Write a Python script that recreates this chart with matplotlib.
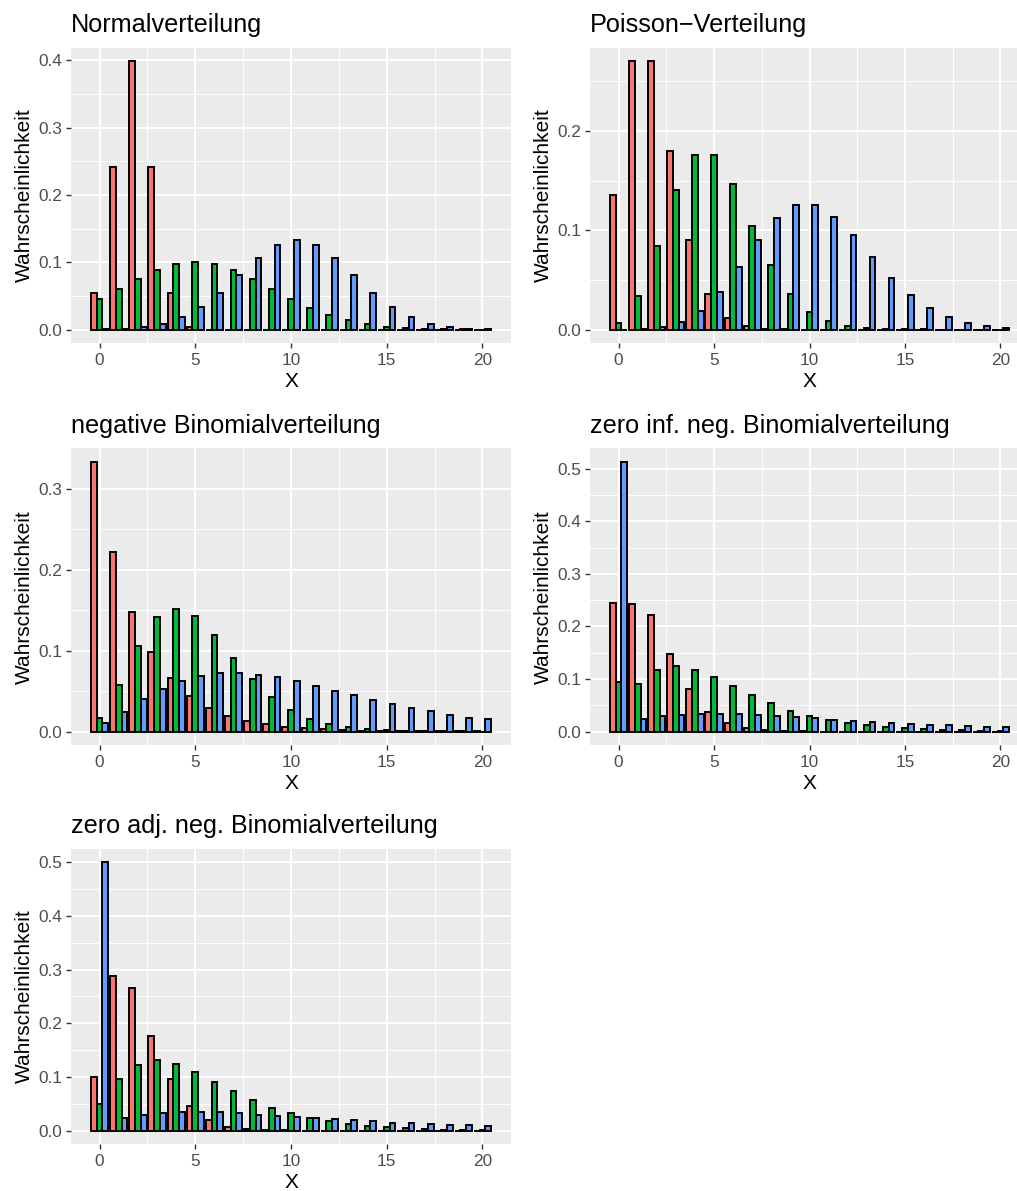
import matplotlib
matplotlib.use("Agg")
import matplotlib.pyplot as plt
from matplotlib.ticker import FixedLocator, FormatStrFormatter

plt.rcParams['font.family'] = ['Liberation Sans', 'DejaVu Sans']

# x-Werte 0..20
x = list(range(21))

# Normalverteilung
norm_a = [0.0540, 0.2420, 0.3989, 0.2420, 0.0540, 0.0044, 0.0001, 0, 0, 0, 0,
          0, 0, 0, 0, 0, 0, 0, 0, 0, 0]
norm_b = [0.0457, 0.0605, 0.0753, 0.0880, 0.0967, 0.0997, 0.0967, 0.0880, 0.0753, 0.0605, 0.0457,
          0.0324, 0.0216, 0.0135, 0.0079, 0.0044, 0.0022, 0.0011, 0.0005, 0.0002, 0.0001]
norm_c = [0.0005, 0.0015, 0.0038, 0.0087, 0.0180, 0.0332, 0.0547, 0.0807, 0.1065, 0.1258, 0.1330,
          0.1258, 0.1065, 0.0807, 0.0547, 0.0332, 0.0180, 0.0087, 0.0038, 0.0015, 0.0005]

# Poisson-Verteilung
pois_a = [0.1353, 0.2707, 0.2707, 0.1804, 0.0902, 0.0361, 0.0120, 0.0034, 0.0009, 0.0002, 0,
          0, 0, 0, 0, 0, 0, 0, 0, 0, 0]
pois_b = [0.0067, 0.0337, 0.0842, 0.1404, 0.1755, 0.1755, 0.1462, 0.1044, 0.0653, 0.0363, 0.0181,
          0.0082, 0.0034, 0.0013, 0.0005, 0.0002, 0.0001, 0, 0, 0, 0]
pois_c = [0.0000, 0.0005, 0.0023, 0.0076, 0.0189, 0.0378, 0.0631, 0.0901, 0.1126, 0.1251, 0.1251,
          0.1137, 0.0948, 0.0729, 0.0521, 0.0347, 0.0217, 0.0128, 0.0071, 0.0037, 0.0019]

# negative Binomialverteilung
nb_a = [0.3333, 0.2222, 0.1481, 0.0988, 0.0658, 0.0439, 0.0293, 0.0195, 0.0130, 0.0087, 0.0058,
        0.0039, 0.0026, 0.0017, 0.0011, 0.0008, 0.0005, 0.0003, 0.0002, 0.0001, 0.0001]
nb_b = [0.0173, 0.0578, 0.1060, 0.1410, 0.1520, 0.1430, 0.1190, 0.0910, 0.0645, 0.0430, 0.0270,
        0.0160, 0.0095, 0.0050, 0.0028, 0.0014, 0.0007, 0.0003, 0.0002, 0.0001, 0.0000]
nb_c = [0.0100, 0.0240, 0.0400, 0.0530, 0.0630, 0.0690, 0.0720, 0.0720, 0.0700, 0.0670, 0.0620,
        0.0560, 0.0500, 0.0450, 0.0390, 0.0340, 0.0290, 0.0250, 0.0210, 0.0170, 0.0150]

# zero inflated neg. Binomialverteilung
zinb_a = [0.245, 0.242, 0.222, 0.148, 0.080, 0.038, 0.016, 0.006, 0.002, 0.0006, 0.0002,
          0, 0, 0, 0, 0, 0, 0, 0, 0, 0]
zinb_b = [0.094, 0.090, 0.117, 0.125, 0.118, 0.104, 0.087, 0.069, 0.054, 0.040, 0.030,
          0.022, 0.0165, 0.012, 0.008, 0.006, 0.004, 0.003, 0.002, 0.0013, 0.0009]
zinb_c = [0.513, 0.023, 0.029, 0.032, 0.033, 0.034, 0.033, 0.031, 0.029, 0.027, 0.025,
          0.022, 0.020, 0.018, 0.016, 0.0145, 0.013, 0.0115, 0.010, 0.009, 0.008]

# zero adjusted neg. Binomialverteilung
zanb_a = [0.100, 0.289, 0.265, 0.177, 0.096, 0.045, 0.019, 0.007, 0.0025, 0.0008, 0.0002,
          0, 0, 0, 0, 0, 0, 0, 0, 0, 0]
zanb_b = [0.050, 0.096, 0.123, 0.131, 0.124, 0.109, 0.091, 0.073, 0.057, 0.043, 0.032,
          0.024, 0.017, 0.012, 0.009, 0.006, 0.004, 0.003, 0.002, 0.0014, 0.001]
zanb_c = [0.500, 0.024, 0.030, 0.033, 0.035, 0.035, 0.034, 0.033, 0.030, 0.028, 0.026,
          0.024, 0.021, 0.019, 0.017, 0.015, 0.0135, 0.012, 0.011, 0.0098, 0.0087]

titles = ["Normalverteilung", "Poisson\u2212Verteilung", "negative Binomialverteilung",
          "zero inf. neg. Binomialverteilung", "zero adj. neg. Binomialverteilung"]
yticks = [[0, 0.1, 0.2, 0.3, 0.4], [0, 0.1, 0.2], [0, 0.1, 0.2, 0.3],
          [0, 0.1, 0.2, 0.3, 0.4, 0.5], [0, 0.1, 0.2, 0.3, 0.4, 0.5]]
colors = ["#F8766D", "#00BA38", "#619CFF"]

W, H = 1017, 1191
fig = plt.figure(figsize=(W / 100, H / 100), dpi=100)

# Panel-Rechtecke in Pixeln (links, oben, rechts, unten)
boxes = [(71, 47.5, 511, 343), (590, 47.5, 1029, 343),
         (71, 448.5, 511, 745), (590, 448.5, 1029, 745),
         (71, 849, 511, 1144)]

def add_panel(box):
    l, t, r, b = box
    return fig.add_axes([l / W, 1 - b / H, (r - l) / W, (b - t) / H])

def draw(ax, series, title, ticks):
    w = 0.3
    for k, (vals, col) in enumerate(zip(series, colors)):
        pos = [xi + (k - 1) * w for xi in x]
        ax.bar(pos, vals, width=w, color=col, edgecolor="black", linewidth=1.4, zorder=3)
    ymax = max(max(s) for s in series)
    ax.set_xlim(-0.45 - 0.05 * 20.9, 20.45 + 0.05 * 20.9)
    ax.set_ylim(-0.05 * ymax, 1.05 * ymax)

    ax.set_facecolor("#EBEBEB")
    for sp in ax.spines.values():
        sp.set_visible(False)
    ax.xaxis.set_major_locator(FixedLocator([0, 5, 10, 15, 20]))
    ax.xaxis.set_minor_locator(FixedLocator([2.5, 7.5, 12.5, 17.5]))
    ax.yaxis.set_major_locator(FixedLocator(ticks))
    ax.yaxis.set_minor_locator(FixedLocator([t + 0.05 for t in ticks]))
    ax.yaxis.set_major_formatter(FormatStrFormatter("%.1f"))
    ax.grid(which="major", color="white", linewidth=1.4, zorder=0)
    ax.grid(which="minor", color="white", linewidth=0.7, zorder=0)
    ax.set_axisbelow(True)
    ax.tick_params(which="major", length=3.3, width=1.0, color="#333333",
                   labelsize=12.4, labelcolor="#4D4D4D")
    ax.tick_params(axis="x", pad=4)
    ax.tick_params(axis="y", pad=3)
    ax.tick_params(which="minor", length=0)

    ax.set_title(title, loc="left", fontsize=18.2, pad=11.2, color="black")
    ax.set_xlabel("X", fontsize=15, color="black")
    ax.set_ylabel("Wahrscheinlichkeit", fontsize=15, color="black")
    ax.xaxis.set_label_coords(0.5, -0.097)
    ax.yaxis.set_label_coords(-0.085, 0.5)

data = [(norm_a, norm_b, norm_c), (pois_a, pois_b, pois_c), (nb_a, nb_b, nb_c),
        (zinb_a, zinb_b, zinb_c), (zanb_a, zanb_b, zanb_c)]

for box, series, title, ticks in zip(boxes, data, titles, yticks):
    ax = add_panel(box)
    draw(ax, series, title, ticks)

fig.savefig("out.png", dpi=100, facecolor="white")
